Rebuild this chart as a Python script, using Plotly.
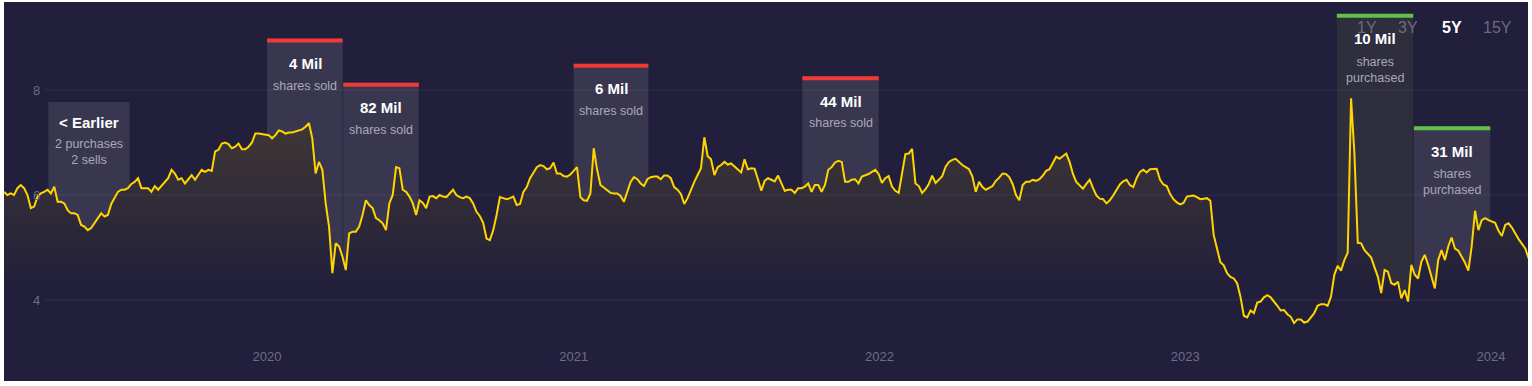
import pandas as pd
import plotly.graph_objects as go

# ---------------- data ----------------
start_date = "2019-02-21"
prices = [
    6.06, 6.00, 6.03, 6.00, 6.13, 6.19, 6.13, 6.00, 5.75, 5.78,
    5.97, 6.03, 6.06, 6.10, 6.03, 6.16, 5.87, 5.87, 5.84, 5.71,
    5.65, 5.65, 5.62, 5.43, 5.40, 5.33, 5.37, 5.46, 5.57, 5.65,
    5.59, 5.62, 5.83, 5.96, 6.06, 6.10, 6.10, 6.13, 6.21, 6.25,
    6.32, 6.13, 6.13, 6.13, 6.06, 6.17, 6.10, 6.17, 6.23, 6.32,
    6.48, 6.41, 6.29, 6.32, 6.22, 6.29, 6.38, 6.29, 6.38, 6.48,
    6.44, 6.48, 6.46, 6.83, 6.86, 6.98, 7.00, 6.97, 6.89, 6.92,
    6.98, 6.87, 6.87, 6.92, 7.00, 7.17, 7.17, 7.16, 7.14, 7.14,
    7.08, 7.14, 7.23, 7.21, 7.17, 7.19, 7.19, 7.21, 7.24, 7.25,
    7.30, 7.37, 7.08, 6.41, 6.63, 6.48, 5.84, 5.40, 4.51, 5.08,
    5.02, 4.83, 4.57, 5.27, 5.30, 5.30, 5.40, 5.62, 5.90, 5.81,
    5.75, 5.56, 5.52, 5.46, 5.33, 5.84, 6.00, 6.53, 6.51, 6.10,
    6.06, 5.97, 5.84, 5.62, 5.90, 5.85, 5.75, 5.97, 5.98, 5.94,
    6.00, 5.97, 5.96, 6.04, 6.10, 6.00, 5.96, 5.94, 5.97, 5.94,
    5.84, 5.68, 5.60, 5.47, 5.17, 5.14, 5.33, 5.62, 5.96, 5.94,
    5.92, 5.94, 5.97, 5.81, 5.83, 6.06, 6.15, 6.32, 6.44, 6.53,
    6.57, 6.55, 6.49, 6.51, 6.62, 6.41, 6.41, 6.36, 6.35, 6.39,
    6.46, 6.53, 5.96, 5.90, 5.89, 6.03, 6.89, 6.48, 6.19, 6.14,
    6.10, 6.04, 6.03, 6.03, 5.98, 5.87, 6.06, 6.25, 6.34, 6.30,
    6.22, 6.17, 6.30, 6.34, 6.35, 6.35, 6.30, 6.37, 6.37, 6.32,
    6.15, 6.10, 6.02, 5.83, 5.94, 6.11, 6.25, 6.38, 6.51, 7.10,
    6.74, 6.68, 6.38, 6.53, 6.57, 6.63, 6.58, 6.60, 6.54, 6.49,
    6.43, 6.68, 6.49, 6.51, 6.50, 6.30, 6.08, 6.27, 6.32, 6.29,
    6.26, 6.37, 6.23, 6.08, 6.10, 6.10, 6.04, 6.13, 6.13, 6.16,
    6.22, 6.06, 6.19, 6.19, 6.06, 6.19, 6.48, 6.53, 6.62, 6.65,
    6.63, 6.25, 6.25, 6.29, 6.30, 6.22, 6.35, 6.37, 6.40, 6.44,
    6.48, 6.40, 6.23, 6.32, 6.36, 6.16, 6.08, 6.04, 6.38, 6.78,
    6.79, 6.88, 6.22, 6.17, 6.04, 6.11, 6.21, 6.37, 6.23, 6.29,
    6.36, 6.54, 6.63, 6.67, 6.69, 6.63, 6.57, 6.53, 6.49, 6.35,
    6.06, 6.25, 6.15, 6.10, 6.13, 6.17, 6.27, 6.33, 6.41, 6.40,
    6.34, 6.21, 6.00, 5.90, 6.19, 6.25, 6.25, 6.29, 6.27, 6.30,
    6.37, 6.46, 6.49, 6.62, 6.73, 6.69, 6.74, 6.79, 6.63, 6.40,
    6.25, 6.18, 6.12, 6.21, 6.29, 6.13, 5.99, 5.93, 5.92, 5.84,
    5.90, 5.99, 6.10, 6.20, 6.26, 6.29, 6.19, 6.15, 6.32, 6.44,
    6.48, 6.43, 6.49, 6.49, 6.50, 6.29, 6.20, 6.17, 6.02, 5.92,
    5.86, 5.82, 5.85, 5.97, 5.98, 5.99, 5.96, 5.92, 5.93, 5.94,
    5.89, 5.24, 4.98, 4.72, 4.66, 4.51, 4.44, 4.41, 4.32, 4.06,
    3.70, 3.67, 3.80, 3.75, 3.95, 3.97, 4.05, 4.09, 4.05, 3.98,
    3.89, 3.80, 3.81, 3.73, 3.68, 3.56, 3.63, 3.63, 3.57, 3.59,
    3.67, 3.75, 3.89, 3.92, 3.92, 3.89, 4.06, 4.48, 4.65, 4.56,
    4.76, 4.90, 7.84, 6.79, 5.09, 5.08, 4.95, 4.88, 4.81, 4.62,
    4.44, 4.13, 4.57, 4.54, 4.32, 4.29, 4.35, 4.03, 4.19, 3.97,
    4.67, 4.48, 4.41, 4.73, 4.86, 4.67, 4.44, 4.22, 4.76, 4.95,
    4.76, 5.02, 5.19, 4.98, 4.94, 4.83, 4.71, 4.56, 5.02, 5.70,
    5.33, 5.52, 5.56, 5.52, 5.49, 5.47, 5.32, 5.22, 5.43, 5.46,
    5.38, 5.26, 5.16, 5.07, 4.98, 4.79,
]
dates = pd.date_range(start_date, periods=len(prices), freq="4D")

trade_quarters = ["2020Q1", "2020Q2", "2021Q1", "2021Q4", "2023Q3", "2023Q4"]
trade_shares = ["4 Mil", "82 Mil", "6 Mil", "44 Mil", "10 Mil", "31 Mil"]
trade_action = ["sold", "sold", "sold", "sold", "purchased", "purchased"]
earlier_purchases = 2
earlier_sells = 2

year_ticks = ["2020-01-01", "2021-01-01", "2022-01-01", "2023-01-01", "2024-01-01"]
y_ticks = [4, 6, 8]
periods = ["1Y", "3Y", "5Y", "15Y"]
selected_period = "5Y"

# ---------------- style / layout constants ----------------
BG = "rgb(33,31,59)"
FONT = "Liberation Sans, Arial, sans-serif"
TICK_COLOR = "#6e6c86"
SUB_COLOR = "#a9a7bb"
X_RANGE = ["2019-02-21", "2024-02-14 05:00"]
Y_RANGE = [2.457, 9.676]
BOX_OFFSET = 1.61          # box top above quarter's max price
EARLIER_RANGE = ["2019-04-15", "2019-07-21"]
EARLIER_TOP = 7.77

fig = go.Figure()
fig.add_trace(go.Scatter(
    x=dates, y=prices, mode="lines",
    line=dict(color="#ffd400", width=2),
    fill="tozeroy",
    fillgradient=dict(type="vertical",
                      colorscale=[[0, BG], [1, "rgb(64,56,52)"]],
                      start=4.2, stop=7.5),
    hoverinfo="skip", showlegend=False,
))

shapes = []
annotations = []

price_s = pd.Series(prices, index=dates)
for q, shares, action in zip(trade_quarters, trade_shares, trade_action):
    per = pd.Period(q, freq="Q")
    x0 = per.start_time
    x1 = per.end_time - pd.Timedelta(hours=20)
    qmax = price_s[(price_s.index >= x0) & (price_s.index <= per.end_time)].max()
    top = qmax + BOX_OFFSET
    purchased = action == "purchased"
    box_fill = "rgba(58,58,62,0.55)" if shares == "10 Mil" else "rgba(255,255,255,0.11)"
    bar_color = "#62c148" if purchased else "#ef3a35"
    shapes.append(dict(type="rect", xref="x", yref="y", x0=x0, x1=x1,
                       y0=Y_RANGE[0], y1=top, fillcolor=box_fill,
                       line=dict(width=0), layer="below"))
    shapes.append(dict(type="rect", xref="x", yref="y", x0=x0, x1=x1,
                       ysizemode="pixel", yanchor=top, y0=-4, y1=0,
                       fillcolor=bar_color, line=dict(width=0), layer="above"))
    xm = x0 + (per.end_time - x0) / 2
    annotations.append(dict(x=xm, y=top, xref="x", yref="y", text="<b>%s</b>" % shares,
                            showarrow=False, yanchor="middle", yshift=-25,
                            font=dict(family=FONT, size=15, color="white")))
    if purchased:
        annotations.append(dict(x=xm, y=top, xref="x", yref="y", text="shares<br>purchased",
                                showarrow=False, yanchor="middle", yshift=-56,
                                font=dict(family=FONT, size=12.5, color=SUB_COLOR)))
    else:
        annotations.append(dict(x=xm, y=top, xref="x", yref="y", text="shares sold",
                                showarrow=False, yanchor="middle", yshift=-47,
                                font=dict(family=FONT, size=12.5, color=SUB_COLOR)))

# "< Earlier" box
shapes.append(dict(type="rect", xref="x", yref="y", x0=EARLIER_RANGE[0], x1=EARLIER_RANGE[1],
                   y0=Y_RANGE[0], y1=EARLIER_TOP, fillcolor="rgba(255,255,255,0.11)",
                   line=dict(width=0), layer="below"))
ex = pd.Timestamp(EARLIER_RANGE[0]) + (pd.Timestamp(EARLIER_RANGE[1]) - pd.Timestamp(EARLIER_RANGE[0])) / 2
annotations.append(dict(x=ex, y=EARLIER_TOP, xref="x", yref="y", text="<b>&lt; Earlier</b>",
                        showarrow=False, yanchor="middle", yshift=-20,
                        font=dict(family=FONT, size=15, color="white")))
annotations.append(dict(x=ex, y=EARLIER_TOP, xref="x", yref="y",
                        text="%d purchases<br>%d sells" % (earlier_purchases, earlier_sells),
                        showarrow=False, yanchor="middle", yshift=-50,
                        font=dict(family=FONT, size=12.5, color=SUB_COLOR)))

# grid lines (drawn above the area fill)
for v in y_ticks:
    shapes.append(dict(type="line", xref="paper", yref="y", x0=0.0262, x1=1, y0=v, y1=v,
                       line=dict(color="rgba(255,255,255,0.075)", width=1), layer="above"))

# period selector
period_x = [0.8944, 0.9213, 0.9501, 0.9797]
for p, px in zip(periods, period_x):
    sel = p == selected_period
    annotations.append(dict(x=px, y=0.9314, xref="paper", yref="paper",
                            text="<b>%s</b>" % p if sel else p, showarrow=False,
                            xanchor="center", yanchor="middle",
                            font=dict(family=FONT, size=16, color="white" if sel else "#6b6984")))

fig.update_layout(
    width=1532, height=386,
    margin=dict(l=4, r=4, t=2, b=5, pad=0),
    paper_bgcolor="white", plot_bgcolor=BG,
    shapes=shapes, annotations=annotations,
    showlegend=False,
    xaxis=dict(range=X_RANGE, tickvals=year_ticks, tickformat="%Y",
               showgrid=False, zeroline=False, showline=False, ticks="",
               ticklabelposition="inside", ticklabelstandoff=14,
               tickfont=dict(family=FONT, size=13, color=TICK_COLOR), fixedrange=True),
    yaxis=dict(range=Y_RANGE, tickvals=y_ticks, showgrid=False, zeroline=False,
               showline=False, ticks="", ticklabelposition="inside", ticklabelstandoff=26,
               tickfont=dict(family=FONT, size=13, color=TICK_COLOR), fixedrange=True),
)

fig.write_html("out.html")
